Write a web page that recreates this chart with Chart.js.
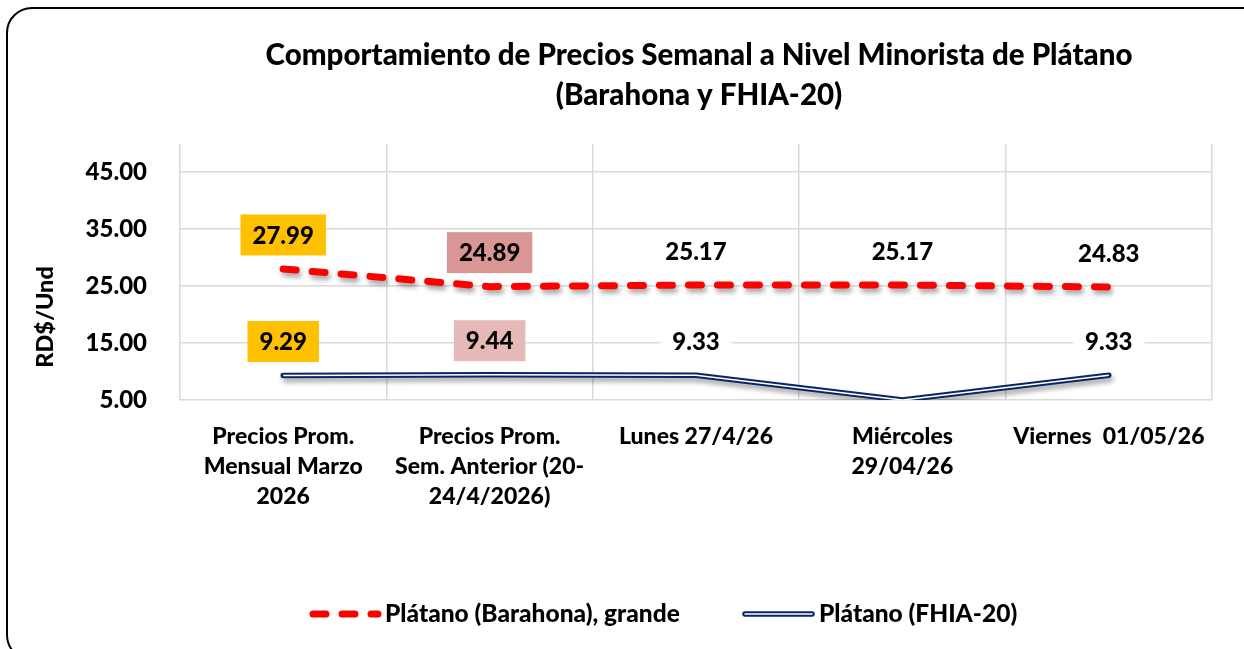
<!DOCTYPE html>
<html><head><meta charset="utf-8">
<script src="https://cdn.jsdelivr.net/npm/chart.js@4.4.1/dist/chart.umd.min.js"></script>
<style>
html,body{margin:0;padding:0;background:#fff;overflow:hidden;}
#wrap{position:relative;width:1244px;height:649px;overflow:hidden;}
#frame{position:absolute;left:6px;top:7px;width:1270px;height:650px;border:2px solid #000;border-radius:26px;pointer-events:none;}
canvas{position:absolute;left:0;top:0;}
</style></head><body>
<div id="wrap"><canvas id="c" width="1244" height="649"></canvas><div id="frame"></div></div>
<script>
const FONT = "Lato, 'Open Sans', sans-serif";
const W = '900';
const titleLines = ['Comportamiento de Precios Semanal a Nivel Minorista de Plátano', '(Barahona y FHIA-20)'];
const categories = [
  ['Precios Prom.', 'Mensual Marzo', '2026'],
  ['Precios Prom.', 'Sem. Anterior (20-', '24/4/2026)'],
  'Lunes 27/4/26',
  ['Miércoles', '29/04/26'],
  'Viernes  01/05/26'
];
const seriesNames = ['Plátano (Barahona), grande', 'Plátano (FHIA-20)'];
const barahona = [27.99, 24.89, 25.17, 25.17, 24.83];
const fhia = [9.29, 9.44, 9.33, 5, 9.33];
const barahonaLabels = ['27.99', '24.89', '25.17', '25.17', '24.83'];
const fhiaLabels = ['9.29', '9.44', '9.33', null, '9.33'];
const yTicks = [5, 15, 25, 35, 45];
const yTitle = 'RD$/Und';

// label box styles (not data)
const bgBarahona = ['#FFC000', '#D99694', '#FFFFFF', '#FFFFFF', '#FFFFFF'];
const bgFhia = ['#FFC000', '#E6B9B8', '#FFFFFF', '#FFFFFF', '#FFFFFF'];

const RED = '#FF0000', NAVY = '#0B2462';

const shadowPlugin = {
  id: 'shadow',
  beforeDatasetDraw(chart, args) {
    if (chart.data.datasets[args.index].shadow) {
      const c = chart.ctx; c.save();
      c.shadowColor = 'rgba(0,0,0,0.35)'; c.shadowBlur = 5; c.shadowOffsetX = 2; c.shadowOffsetY = 4;
    }
  },
  afterDatasetDraw(chart, args) {
    if (chart.data.datasets[args.index].shadow) chart.ctx.restore();
  }
};

function drawLabel(ctx, text, x, y, bg) {
  ctx.font = W + ' 24px ' + FONT;
  const tw = ctx.measureText(text).width;
  const w = tw + 24, h = 41;
  ctx.fillStyle = bg;
  ctx.fillRect(x - w / 2, y - h / 2, w, h);
  ctx.fillStyle = '#000';
  ctx.textAlign = 'center'; ctx.textBaseline = 'middle';
  ctx.fillText(text, x, y + 1);
}

const decoPlugin = {
  id: 'deco',
  afterDatasetsDraw(chart) {
    const ctx = chart.ctx;
    ctx.save();
    const mR = chart.getDatasetMeta(0), mF = chart.getDatasetMeta(2);
    mR.data.forEach((p, i) => { if (barahonaLabels[i]) drawLabel(ctx, barahonaLabels[i], p.x, p.y - 34, bgBarahona[i]); });
    mF.data.forEach((p, i) => { if (fhiaLabels[i]) drawLabel(ctx, fhiaLabels[i], p.x, p.y - 34, bgFhia[i]); });
    ctx.restore();
  },
  afterDraw(chart) {
    const ctx = chart.ctx, ca = chart.chartArea;
    ctx.save();
    // title
    ctx.fillStyle = '#000'; ctx.textAlign = 'center'; ctx.textBaseline = 'middle';
    ctx.font = W + ' 29.5px ' + FONT;
    const cx = (ca.left + ca.right) / 2 + 3;
    ctx.fillText(titleLines[0], cx, 55);
    ctx.fillText(titleLines[1], cx, 95);
    // y title
    ctx.save();
    ctx.translate(45, 317); ctx.rotate(-Math.PI / 2);
    ctx.font = W + ' 23.5px ' + FONT;
    ctx.fillText(yTitle, 0, 0);
    ctx.restore();
    // legend
    const ly = 614;
    ctx.font = W + ' 24.5px ' + FONT; ctx.textAlign = 'left';
    ctx.save();
    ctx.strokeStyle = RED; ctx.lineWidth = 7; ctx.lineCap = 'round'; ctx.setLineDash([13, 16]);
    ctx.beginPath(); ctx.moveTo(313, ly); ctx.lineTo(378, ly); ctx.stroke();
    ctx.restore();
    ctx.fillText(seriesNames[0], 385, ly);
    ctx.save();
    ctx.lineCap = 'round';
    ctx.strokeStyle = NAVY; ctx.lineWidth = 5.5;
    ctx.beginPath(); ctx.moveTo(745, ly); ctx.lineTo(812, ly); ctx.stroke();
    ctx.strokeStyle = '#fff'; ctx.lineWidth = 1.6;
    ctx.beginPath(); ctx.moveTo(745, ly); ctx.lineTo(812, ly); ctx.stroke();
    ctx.restore();
    ctx.fillText(seriesNames[1], 819, ly);
    ctx.restore();
  }
};

new Chart(document.getElementById('c'), {
  type: 'line',
  data: {
    labels: categories,
    datasets: [
      { label: seriesNames[0], data: barahona, borderColor: RED, borderWidth: 7, borderDash: [13, 16], borderCapStyle: 'round', pointRadius: 0, tension: 0, fill: false, shadow: true },
      { label: '', data: fhia, borderColor: '#FFFFFF', borderWidth: 1.6, pointRadius: 0, tension: 0, fill: false, clip: { left: 10, right: 10, top: 10, bottom: 0 } },
      { label: seriesNames[1], data: fhia, borderColor: NAVY, borderWidth: 5.5, borderJoinStyle: 'round', borderCapStyle: 'round', pointRadius: 0, tension: 0, fill: false, shadow: true, clip: { left: 10, right: 10, top: 10, bottom: 0 } }
    ]
  },
  options: {
    responsive: false, animation: false, devicePixelRatio: 1,
    layout: { padding: { left: 10, right: 32, top: 143.5, bottom: 129 } },
    plugins: { legend: { display: false }, title: { display: false }, tooltip: { enabled: false } },
    scales: {
      x: {
        offset: true,
        grid: { offset: true, color: '#D9D9D9', lineWidth: 1.5, drawTicks: false },
        border: { display: false },
        ticks: { font: { family: FONT, size: 23, weight: W, lineHeight: 1.3 }, color: '#000', padding: 22, maxRotation: 0, minRotation: 0, autoSkip: false },
        afterFit(s) { s.height = 120; }
      },
      y: {
        min: 5, max: 50,
        afterBuildTicks(s) { s.ticks = yTicks.map(v => ({ value: v })); },
        grid: { color: '#D9D9D9', lineWidth: 1.5, drawTicks: false },
        border: { display: false },
        ticks: { font: { family: FONT, size: 24, weight: W }, color: '#000', padding: 33, callback: v => Number(v).toFixed(2) },
        afterFit(s) { s.width = 170; }
      }
    }
  },
  plugins: [shadowPlugin, decoPlugin]
});
</script>
</body></html>
